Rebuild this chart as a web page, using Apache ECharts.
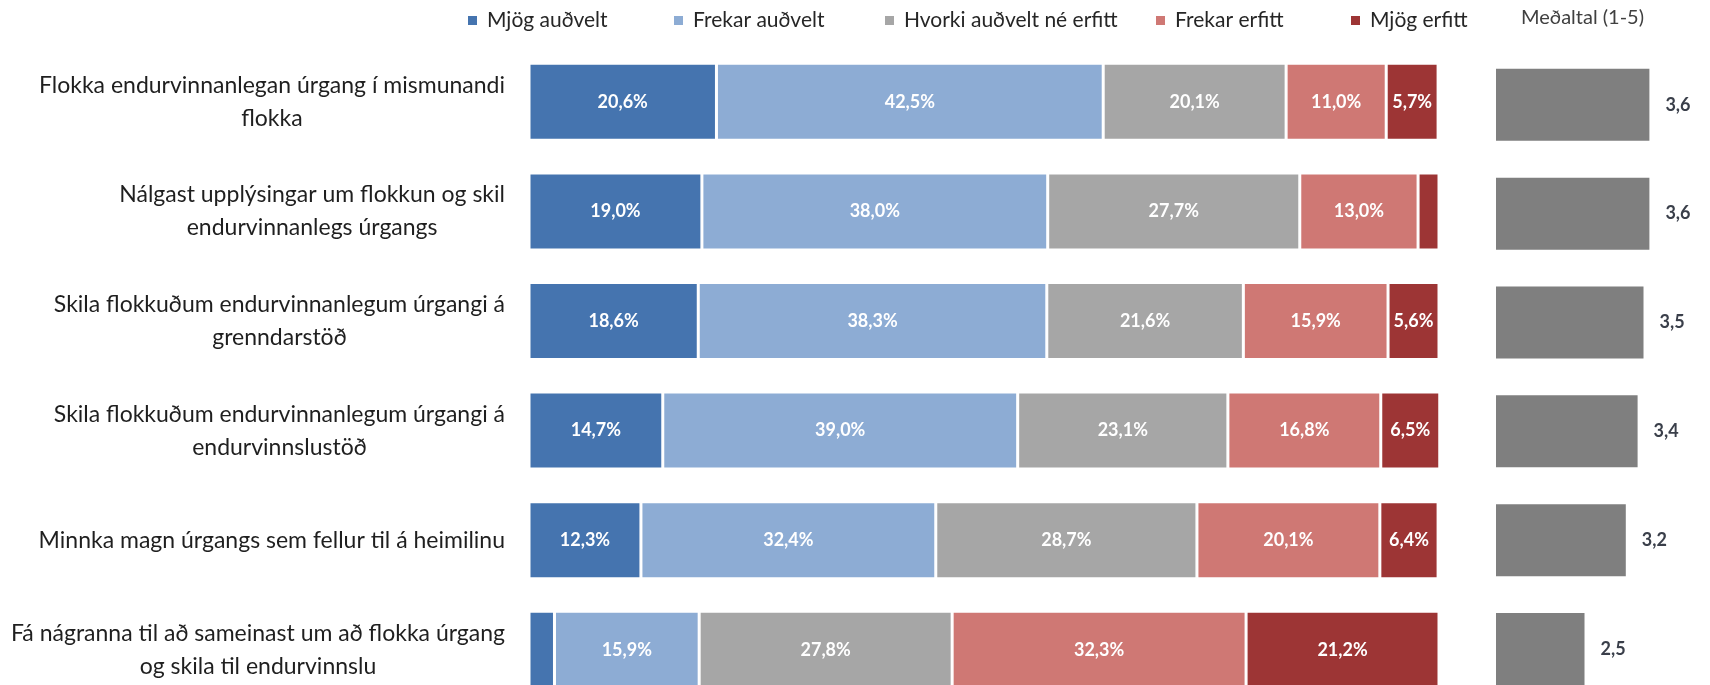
<!DOCTYPE html>
<html>
<head>
<meta charset="utf-8">
<script src="https://cdn.jsdelivr.net/npm/echarts@6/dist/echarts.min.js"></script>
<style>
  html, body { margin: 0; padding: 0; background: #fff; }
  #main { width: 1710px; height: 685px; }
</style>
</head>
<body>
<div id="main"></div>
<script>
var categories = [
  'Flokka endurvinnanlegan úrgang í mismunandi\nflokka',
  'Nálgast upplýsingar um flokkun og skil\nendurvinnanlegs úrgangs',
  'Skila flokkuðum endurvinnanlegum úrgangi á\ngrenndarstöð',
  'Skila flokkuðum endurvinnanlegum úrgangi á\nendurvinnslustöð',
  'Minnka magn úrgangs sem fellur til á heimilinu',
  'Fá nágranna til að sameinast um að flokka úrgang\nog skila til endurvinnslu'
];
var seriesNames = ['Mjög auðvelt', 'Frekar auðvelt', 'Hvorki auðvelt né erfitt', 'Frekar erfitt', 'Mjög erfitt'];
var mjogAudvelt = [20.6, 19.0, 18.6, 14.7, 12.3, 2.8];
var frekarAudvelt = [42.5, 38.0, 38.3, 39.0, 32.4, 15.9];
var hvorki = [20.1, 27.7, 21.6, 23.1, 28.7, 27.8];
var frekarErfitt = [11.0, 13.0, 15.9, 16.8, 20.1, 32.3];
var mjogErfitt = [5.7, 2.3, 5.6, 6.5, 6.4, 21.2];
var medaltal = [3.6, 3.6, 3.5, 3.4, 3.2, 2.5];

var colors = ['#4574AF', '#8DACD4', '#A6A6A6', '#CF7874', '#9D3535'];
var values = [mjogAudvelt, frekarAudvelt, hvorki, frekarErfitt, mjogErfitt];
var legendLeft = [466, 672, 883, 1154, 1349];
var font = 'Lato, sans-serif';

var chartDom = document.getElementById('main');
var myChart = echarts.init(chartDom);
var option;

function comma(v, d) {
  return v.toFixed(d).replace('.', ',');
}

var series = seriesNames.map(function (name, i) {
  return {
    name: name,
    type: 'bar',
    stack: 'total',
    xAxisIndex: 0,
    yAxisIndex: 0,
    barWidth: 77,
    data: values[i],
    itemStyle: { color: colors[i], borderColor: '#fff', borderWidth: 1.5 },
    label: {
      show: true,
      position: 'inside',
      color: '#fff',
      fontFamily: font,
      fontWeight: 'bold',
      fontSize: 18,
      formatter: function (p) {
        return p.value < 3 ? '' : comma(p.value, 1) + '%';
      }
    }
  };
});

series.push({
  name: 'Meðaltal',
  type: 'bar',
  xAxisIndex: 1,
  yAxisIndex: 1,
  barWidth: 72,
  clip: true,
  data: medaltal,
  itemStyle: { color: '#7F7F7F' },
  label: {
    show: true,
    position: 'right',
    distance: 16,
    color: '#3a3f4a',
    fontFamily: font,
    fontWeight: 'bold',
    fontSize: 18,
    formatter: function (p) { return comma(p.value, 1); }
  }
});

// one legend per item so each sits where it does in the original
var legends = seriesNames.map(function (name, i) {
  return {
    data: [name],
    left: legendLeft[i],
    top: 10,
    padding: 0,
    itemWidth: 11,
    itemHeight: 11,
    icon: 'rect',
    textStyle: { fontFamily: font, fontSize: 21, color: '#262626', padding: [0, 0, 0, 4] }
  };
});

option = {
  animation: false,
  title: {
    text: 'Meðaltal (1-5)',
    left: 1516,
    top: 3,
    textStyle: { fontFamily: font, fontSize: 20, fontWeight: 'normal', color: '#404040' }
  },
  legend: legends,
  grid: [
    { left: 529, width: 910, top: 47, height: 657.6, outerBoundsMode: 'none' },
    { left: 1496, width: 236, top: 50.4, height: 653, outerBoundsMode: 'none' }
  ],
  xAxis: [
    { type: 'value', gridIndex: 0, min: 0, max: 100, show: false },
    { type: 'value', gridIndex: 1, min: 1, max: 5, startValue: 1, show: false }
  ],
  yAxis: [
    {
      type: 'category',
      gridIndex: 0,
      inverse: true,
      data: categories,
      axisLine: { show: false },
      axisTick: { show: false },
      axisLabel: {
        margin: 24,
        fontFamily: font,
        fontSize: 23,
        lineHeight: 33,
        color: '#1f1f1f',
        formatter: function (v) {
          return v.split('\n').map(function (l) { return '{c|' + l + '}'; }).join('\n');
        },
        rich: {
          c: { align: 'center', fontFamily: font, fontSize: 23, lineHeight: 33, color: '#1f1f1f' }
        }
      }
    },
    {
      type: 'category',
      gridIndex: 1,
      inverse: true,
      data: categories,
      show: false
    }
  ],
  series: series
};

option && myChart.setOption(option);
</script>
</body>
</html>
